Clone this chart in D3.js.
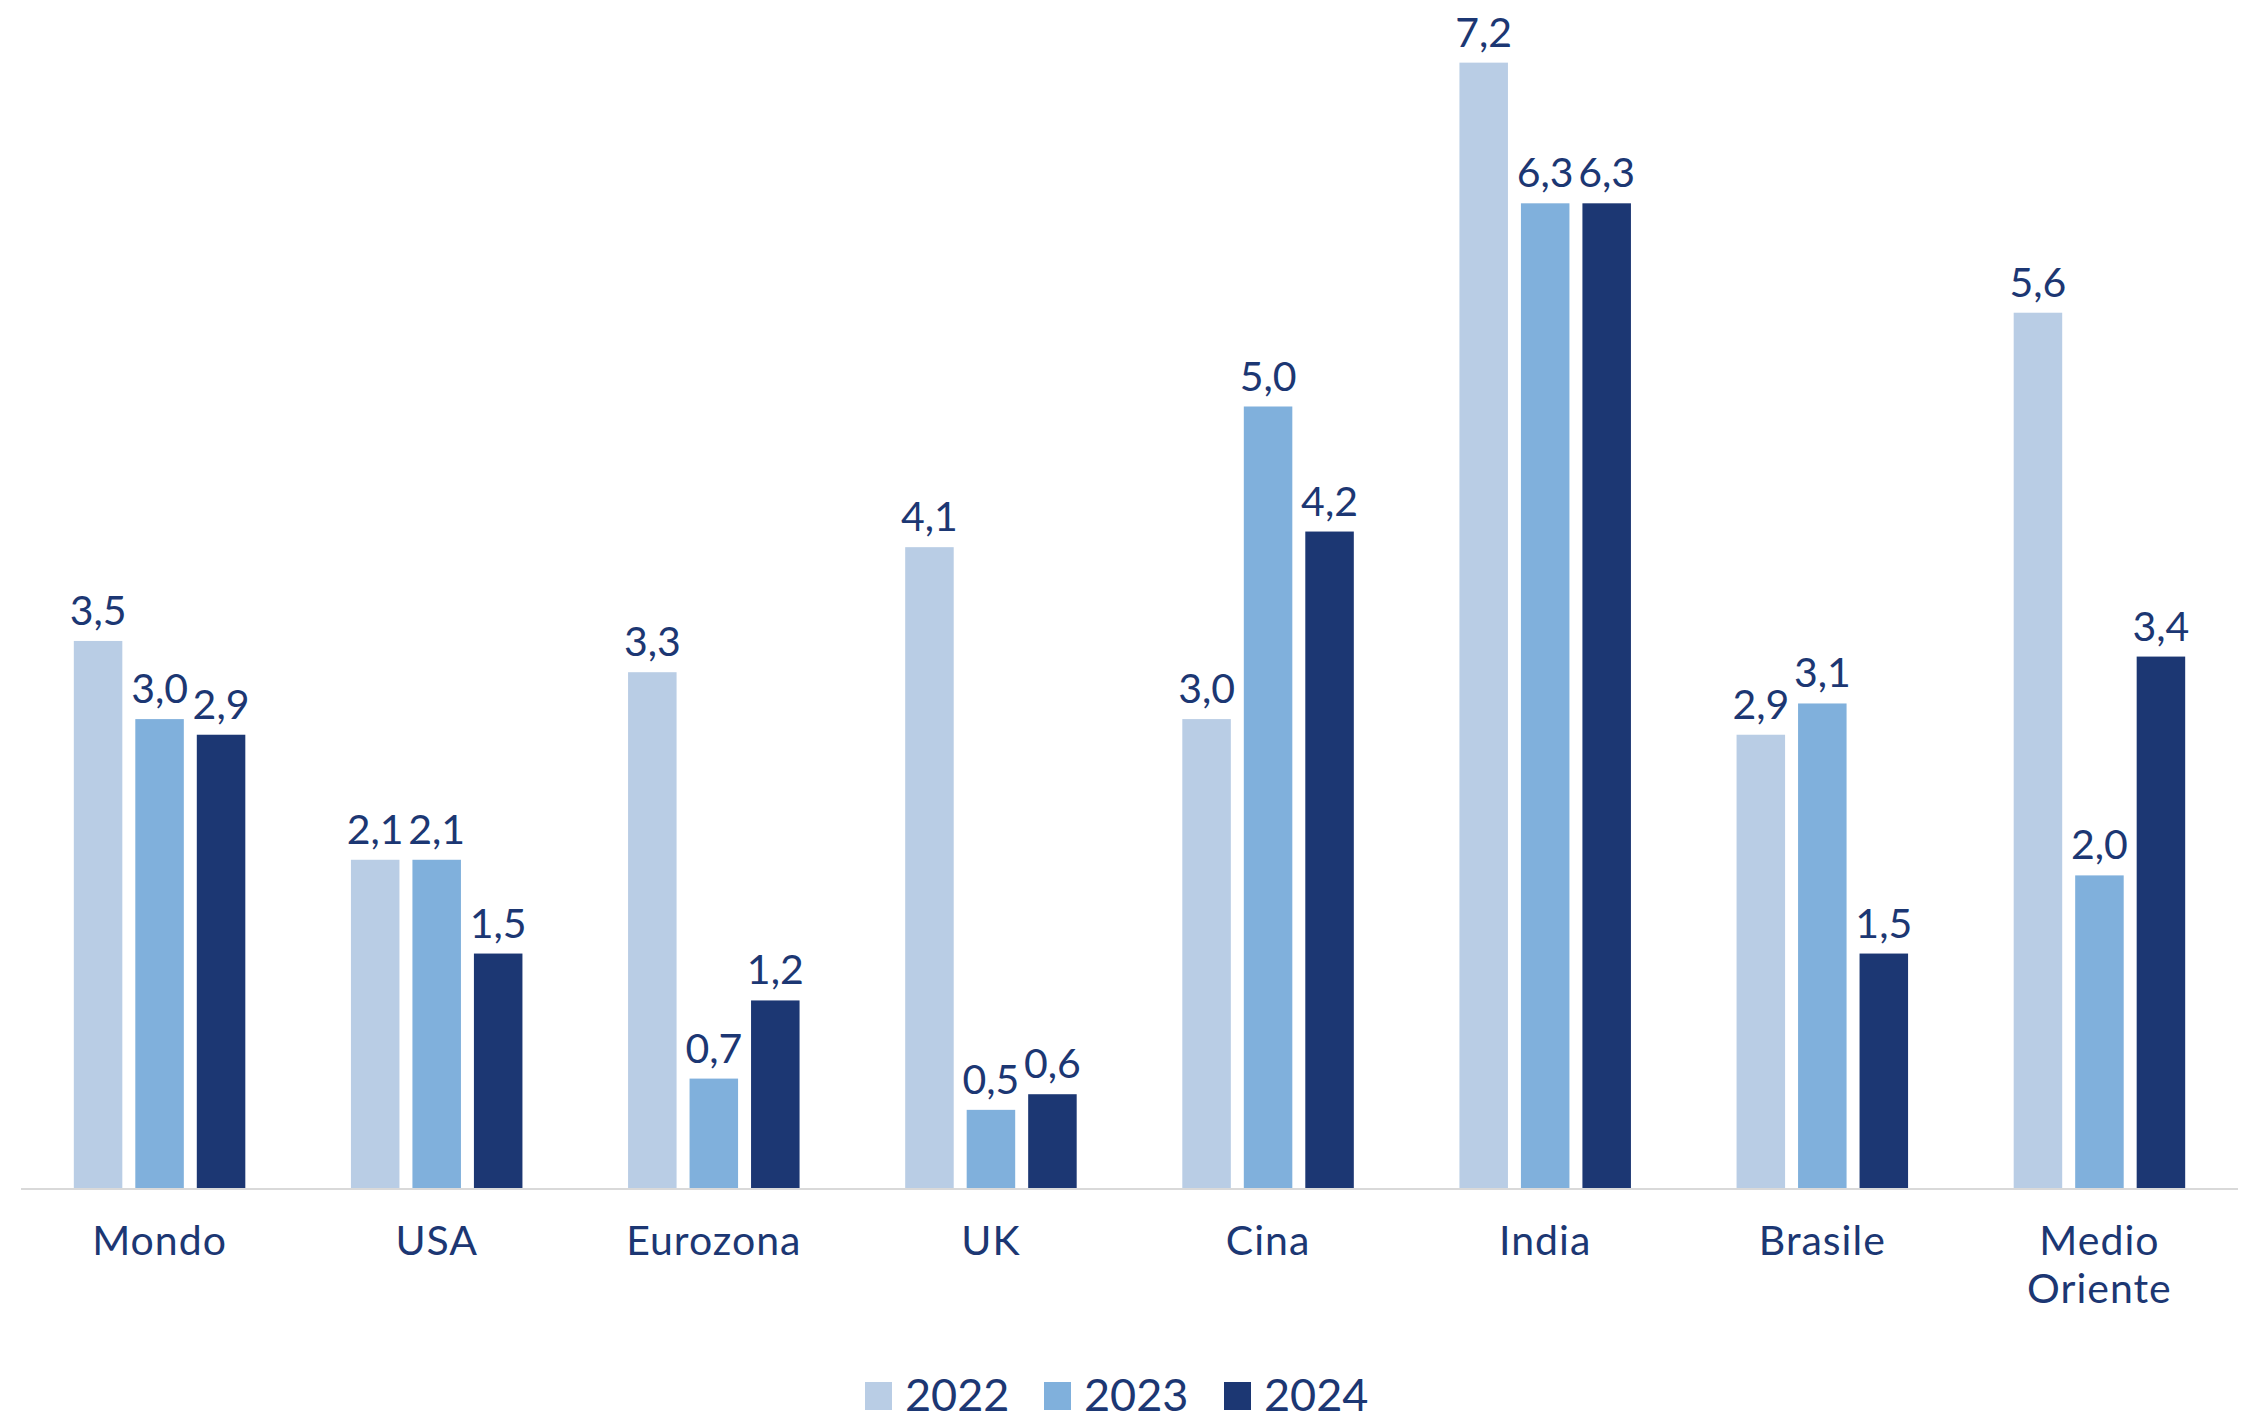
<!DOCTYPE html>
<html>
<head>
<meta charset="utf-8">
<script src="https://cdn.jsdelivr.net/npm/d3@7"></script>
<style>
  html, body { margin: 0; padding: 0; background: #ffffff; }
  svg { display: block; }
</style>
</head>
<body>
<svg id="chart" width="2251" height="1423"></svg>
<script>
const categories = ["Mondo", "USA", "Eurozona", "UK", "Cina", "India", "Brasile", "Medio Oriente"];
const seriesNames = ["2022", "2023", "2024"];
const values2022 = [3.5, 2.1, 3.3, 4.1, 3.0, 7.2, 2.9, 5.6];
const values2023 = [3.0, 2.1, 0.7, 0.5, 5.0, 6.3, 3.1, 2.0];
const values2024 = [2.9, 1.5, 1.2, 0.6, 4.2, 6.3, 1.5, 3.4];
const seriesColors = ["#B9CDE5", "#80B0DC", "#1C3773"];

const allSeries = [values2022, values2023, values2024];
const textColor = "#1C3773";
const fontFamily = "Lato, 'Open Sans', sans-serif";
const fontWeight = 400;

const svg = d3.select("#chart");
const left = 21, right = 2238, baseline = 1188;
const unit = 156.3;

const x0 = d3.scaleBand().domain(categories).range([left, right]).padding(0);
const groupW = 171.5;
const x1 = d3.scaleBand().domain(seriesNames).range([0, groupW]).paddingInner(0.211).paddingOuter(0);
const y = d3.scaleLinear().domain([0, 1]).range([baseline, baseline - unit]);

const fmt = v => d3.format(".1f")(v).replace(".", ",");

const groups = svg.selectAll("g.cat")
  .data(categories)
  .join("g")
  .attr("class", "cat")
  .attr("transform", d => `translate(${x0(d) + (x0.bandwidth() - groupW) / 2},0)`);

groups.each(function(cat, ci) {
  const g = d3.select(this);
  seriesNames.forEach((s, si) => {
    const v = allSeries[si][ci];
    g.append("rect")
      .attr("x", x1(s))
      .attr("y", y(v))
      .attr("width", x1.bandwidth())
      .attr("height", y(0) - y(v))
      .attr("fill", seriesColors[si]);
    g.append("text")
      .attr("x", x1(s) + x1.bandwidth() / 2)
      .attr("y", y(v) - 16)
      .attr("text-anchor", "middle")
      .attr("font-family", fontFamily)
      .attr("font-weight", fontWeight)
      .attr("font-size", 41)
      .attr("fill", textColor)
      .text(fmt(v));
  });
});

// baseline axis
svg.append("line")
  .attr("x1", left).attr("x2", right)
  .attr("y1", baseline + 1).attr("y2", baseline + 1)
  .attr("stroke", "#D9D9D9").attr("stroke-width", 2);

// category labels
const catLabels = svg.append("g");
categories.forEach(c => {
  const words = c.split(" ");
  const t = catLabels.append("text")
    .attr("x", x0(c) + x0.bandwidth() / 2)
    .attr("y", 1255)
    .attr("text-anchor", "middle")
    .attr("font-family", fontFamily)
    .attr("font-weight", fontWeight)
    .attr("font-size", 41)
    .attr("letter-spacing", 1)
    .attr("fill", textColor);
  words.forEach((w, i) => {
    t.append("tspan")
      .attr("x", x0(c) + x0.bandwidth() / 2)
      .attr("dy", i === 0 ? 0 : 48)
      .text(w);
  });
});

// legend
const legendX = [865, 1044, 1224];
const legend = svg.append("g");
seriesNames.forEach((s, i) => {
  legend.append("rect")
    .attr("x", legendX[i]).attr("y", 1382)
    .attr("width", 27).attr("height", 28)
    .attr("fill", seriesColors[i]);
  legend.append("text")
    .attr("x", legendX[i] + 40).attr("y", 1411)
    .attr("font-family", fontFamily)
    .attr("font-weight", fontWeight)
    .attr("font-size", 45)
    .attr("fill", textColor)
    .text(s);
});
</script>
</body>
</html>
